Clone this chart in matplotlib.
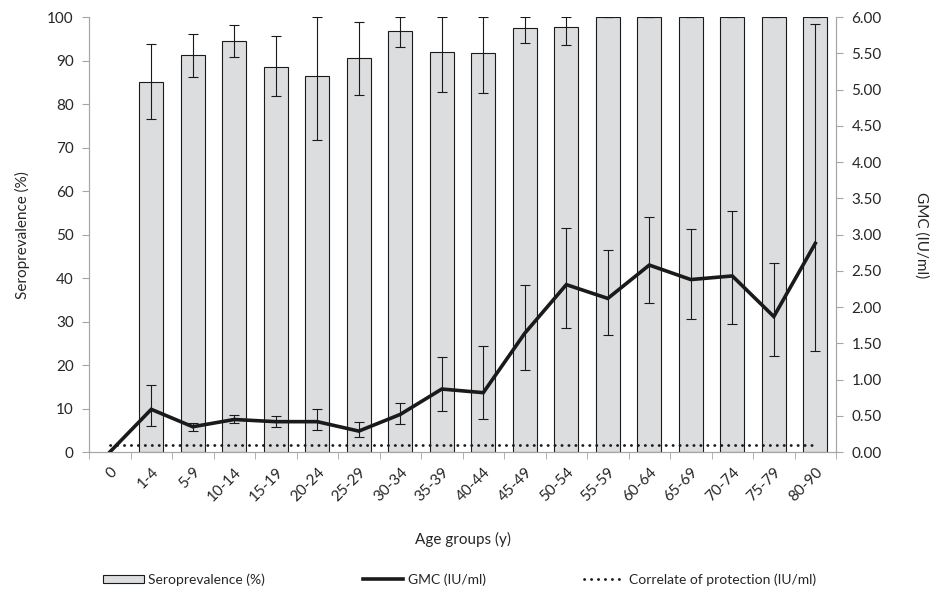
import numpy as np
import matplotlib
matplotlib.use('Agg')
import matplotlib.pyplot as plt
from matplotlib.patches import Patch
from matplotlib.lines import Line2D

plt.rcParams['font.family'] = ['Lato', 'DejaVu Sans']

age_groups = ['0', '1-4', '5-9', '10-14', '15-19', '20-24', '25-29', '30-34', '35-39',
              '40-44', '45-49', '50-54', '55-59', '60-64', '65-69', '70-74', '75-79', '80-90']

# seroprevalence (%) with 95% CI
sero = [np.nan, 85.2, 91.3, 94.5, 88.6, 86.4, 90.5, 96.7, 91.9, 91.8, 97.5, 97.8,
        100, 100, 100, 100, 100, 100]
sero_lo = [np.nan, 76.5, 86.3, 90.8, 81.8, 71.7, 82.0, 93.1, 82.7, 82.5, 94.0, 93.6,
           100, 100, 100, 100, 100, 100]
sero_hi = [np.nan, 93.8, 96.2, 98.2, 95.6, 100, 98.9, 100, 100, 100, 100, 100,
           100, 100, 100, 100, 100, 100]

# GMC (IU/ml) with 95% CI
gmc = [0.0, 0.59, 0.35, 0.45, 0.42, 0.42, 0.29, 0.52, 0.87, 0.82, 1.64, 2.31,
       2.12, 2.58, 2.38, 2.43, 1.87, 2.88]
gmc_lo = [np.nan, 0.36, 0.29, 0.40, 0.34, 0.30, 0.21, 0.39, 0.57, 0.46, 1.13, 1.71,
          1.62, 2.05, 1.83, 1.77, 1.33, 1.39]
gmc_hi = [np.nan, 0.92, 0.40, 0.51, 0.50, 0.59, 0.41, 0.68, 1.31, 1.47, 2.30, 3.09,
          2.79, 3.25, 3.08, 3.32, 2.61, 5.91]

protection = 0.1

x = np.arange(len(age_groups))
sero = np.array(sero)
gmc = np.array(gmc)
s_err = [sero - np.array(sero_lo), np.array(sero_hi) - sero]
g_err = [gmc - np.array(gmc_lo), np.array(gmc_hi) - gmc]

txt = '#262626'
spine_c = '#a6a6a6'
dots = (0, (0.1, 2.4))

fig = plt.figure(figsize=(9.3, 5.91), dpi=100)
ax = fig.add_axes([0.0957, 0.235, 0.8033, 0.736])
ax2 = ax.twinx()

ax.bar(x, sero, width=0.57, color='#dcdddf', edgecolor='#1a1a1a', linewidth=0.8, zorder=2)
ax.errorbar(x, sero, yerr=s_err, fmt='none', ecolor='#1a1a1a', elinewidth=0.8,
            capsize=3.5, capthick=0.8, zorder=3)

ax2.plot(x, gmc, color='#1a1a1a', lw=2.6, zorder=4, solid_joinstyle='miter')
ax2.errorbar(x, gmc, yerr=g_err, fmt='none', ecolor='#1a1a1a', elinewidth=0.8,
             capsize=3.5, capthick=0.8, zorder=3)
ax2.plot(x, [protection] * len(x), color='#1a1a1a', lw=2.0, ls=dots,
         dash_capstyle='round', zorder=3)

ax.set_xlim(-0.5, len(x) - 0.5)
ax.set_ylim(0, 100)
ax2.set_ylim(0, 6)
ax.set_yticks(np.arange(0, 101, 10))
ax2.set_yticks(np.arange(0, 6.01, 0.5))
ax2.set_yticklabels(['%.2f' % v for v in np.arange(0, 6.01, 0.5)])

ax.set_xticks(x)
ax.set_xticklabels(age_groups, rotation=45, ha='right', rotation_mode='anchor')
ax.set_xticks(np.arange(-0.5, len(x), 1.0), minor=True)
ax.tick_params(axis='x', which='major', length=0, pad=9, labelsize=11, colors=txt)
ax.tick_params(axis='x', which='minor', length=5, color=spine_c)
ax.tick_params(axis='y', length=5, color=spine_c, labelsize=11, labelcolor=txt, pad=6)
ax2.tick_params(axis='y', length=5, color=spine_c, labelsize=11, labelcolor=txt, pad=6)

for a in (ax, ax2):
    a.spines['top'].set_visible(False)
    for s in ('left', 'right', 'bottom'):
        a.spines[s].set_color(spine_c)

ax.set_ylabel('Seroprevalence (%)', fontsize=11, color=txt, labelpad=12)
ax2.set_ylabel('GMC (IU/ml)', fontsize=11, color=txt, rotation=270, labelpad=34)
ax.set_xlabel('Age groups (y)', fontsize=11, color=txt, labelpad=20)

handles = [Patch(facecolor='#dcdddf', edgecolor='#1a1a1a', linewidth=0.8),
           Line2D([], [], color='#1a1a1a', lw=2.6),
           Line2D([], [], color='#1a1a1a', lw=2.0, ls=dots, dash_capstyle='round')]
labels = ['Seroprevalence (%)', 'GMC (IU/ml)', 'Correlate of protection (IU/ml)']
fig.legend(handles, labels, loc='center left', bbox_to_anchor=(0.111, 0.019), ncol=3,
           frameon=False, fontsize=10, columnspacing=7.1, handlelength=2.9,
           handleheight=0.55, handletextpad=0.3, labelcolor=txt,
           borderpad=0, borderaxespad=0)

fig.savefig('out.png', dpi=100)
